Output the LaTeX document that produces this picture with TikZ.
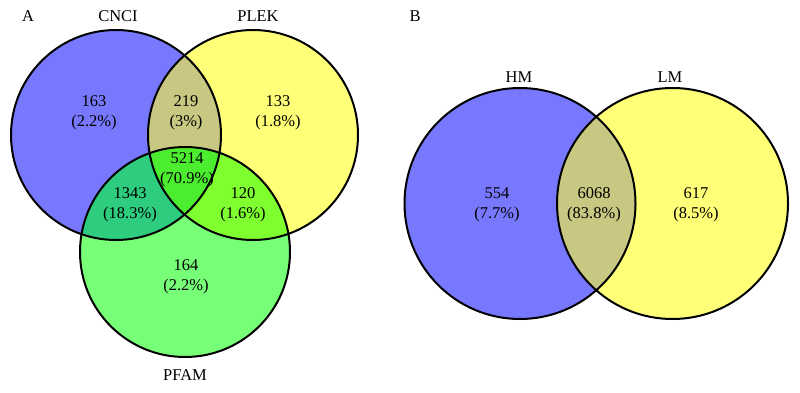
\documentclass[tikz,border=0pt]{standalone}
\usepackage{fontspec}
\setmainfont{Liberation Serif}
\usepackage{tikz}
\usetikzlibrary{positioning}

\definecolor{cnciblue}{RGB}{120,120,255}
\definecolor{plekyellow}{RGB}{255,255,120}
\definecolor{pfamgreen}{RGB}{120,255,120}
\definecolor{cnciplek}{RGB}{200,200,130}
\definecolor{cncipfam}{RGB}{46,204,127}
\definecolor{plekpfam}{RGB}{127,255,47}
\definecolor{allthree}{RGB}{76,236,47}

\tikzset{
  every node/.style={font=\fontsize{16.5}{20}\selectfont},
  count/.style={align=center},
  ring/.style={draw=black, line width=2pt}
}

\begin{document}
\begin{tikzpicture}[x=1pt, y=-1pt]
    \useasboundingbox (0,0) rectangle (800,393);

    % Centres
    \coordinate (cnci) at (116,135);
    \coordinate (plek) at (253,135);
    \coordinate (pfam) at (185,252);
    \coordinate (hm) at (520,203.5);
    \coordinate (lm) at (672.5,203.5);

    % Panel A
    \fill[cnciblue] (cnci) circle (105);
    \fill[plekyellow] (plek) circle (105);
    \fill[pfamgreen] (pfam) circle (105);
    \begin{scope}
      \clip (cnci) circle (105);
      \fill[cnciplek] (plek) circle (105);
      \fill[cncipfam] (pfam) circle (105);
    \end{scope}
    \begin{scope}
      \clip (plek) circle (105);
      \fill[plekpfam] (pfam) circle (105);
      \clip (cnci) circle (105);
      \fill[allthree] (pfam) circle (105);
    \end{scope}
    \draw[ring] (cnci) circle (105);
    \draw[ring] (plek) circle (105);
    \draw[ring] (pfam) circle (105);

    % Panel B
    \fill[cnciblue] (hm) circle (115.5);
    \fill[plekyellow] (lm) circle (115.5);
    \begin{scope}
      \clip (hm) circle (115.5);
      \fill[cnciplek] (lm) circle (115.5);
    \end{scope}
    \draw[ring] (hm) circle (115.5);
    \draw[ring] (lm) circle (115.5);

    % Titles
    \node (panelA) at (28,16) {A};
    \node (cncititle) at (118,16) {CNCI};
    \node (plektitle) at (258,16) {PLEK};
    \node (pfamtitle) at (185,375) {PFAM};
    \node (panelB) at (415,16) {B};
    \node (hmtitle) at (519,77) {HM};
    \node (lmtitle) at (670,77) {LM};

    % Counts
    \node[count] (onlycnci) at (94,113) {163\\(2.2\%)};
    \node[count] (cnciplekn) at (186,113) {219\\(3\%)};
    \node[count] (onlyplek) at (278,113) {133\\(1.8\%)};
    \node[count] (alln) at (187,170) {5214\\(70.9\%)};
    \node[count] (cncipfamn) at (130,205) {1343\\(18.3\%)};
    \node[count] (plekpfamn) at (243,205) {120\\(1.6\%)};
    \node[count] (onlypfam) at (186,277) {164\\(2.2\%)};
    \node[count] (onlyhm) at (497,205) {554\\(7.7\%)};
    \node[count] (hmlmn) at (594,205) {6068\\(83.8\%)};
    \node[count] (onlylm) at (696,205) {617\\(8.5\%)};
\end{tikzpicture}
\end{document}
